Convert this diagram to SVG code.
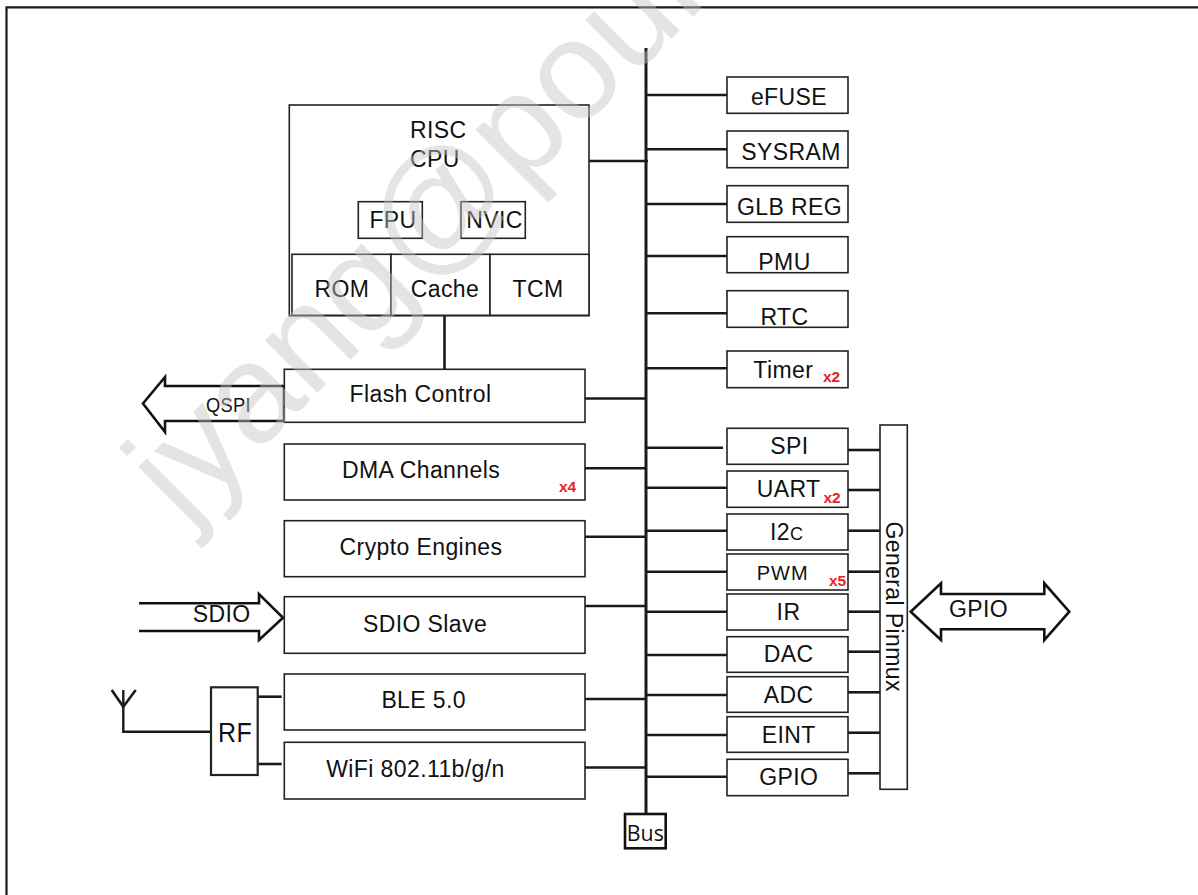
<svg xmlns="http://www.w3.org/2000/svg" width="1198" height="895" viewBox="0 0 1198 895">
<style>
.box{fill:#fff;stroke:#222;stroke-width:1.6}
.ln{stroke:#1a1a1a;stroke-width:2.6;fill:none}
.t{font-family:"Liberation Sans",Arial,sans-serif;font-size:23px;fill:#111;letter-spacing:0.4px}
.c{text-anchor:middle}
.r{font-family:"Liberation Sans",Arial,sans-serif;font-size:15.5px;font-weight:bold;fill:#e8202a}
.arr{fill:#fff;stroke:#111;stroke-width:2.6;stroke-linejoin:miter}
</style>
<rect x="0" y="0" width="1198" height="895" fill="#fff"/>
<path d="M6.5 895 V7.3 H1198" fill="none" stroke="#1a1a1a" stroke-width="2.2"/>

<g id="connectors">
  <line class="ln" x1="646" y1="48" x2="646" y2="814" style="stroke-width:3"/>
  <line class="ln" x1="589" y1="161" x2="648" y2="161"/>
  <line class="ln" x1="444.5" y1="316" x2="444.5" y2="369"/>
  <line class="ln" x1="585" y1="398.5" x2="646" y2="398.5"/>
  <line class="ln" x1="585" y1="468.3" x2="646" y2="468.3"/>
  <line class="ln" x1="585" y1="536.7" x2="646" y2="536.7"/>
  <line class="ln" x1="585" y1="606" x2="646" y2="606"/>
  <line class="ln" x1="585" y1="699" x2="646" y2="699"/>
  <line class="ln" x1="585" y1="767.5" x2="646" y2="767.5"/>
  <line class="ln" x1="646" y1="95" x2="727" y2="95"/>
  <line class="ln" x1="646" y1="149.3" x2="727" y2="149.3"/>
  <line class="ln" x1="646" y1="204" x2="727" y2="204"/>
  <line class="ln" x1="646" y1="256" x2="727" y2="256"/>
  <line class="ln" x1="646" y1="313.3" x2="727" y2="313.3"/>
  <line class="ln" x1="646" y1="368.3" x2="727" y2="368.3"/>
  <line class="ln" x1="646" y1="447.7" x2="723" y2="447.7"/>
  <line class="ln" x1="646" y1="487.7" x2="727" y2="487.7"/>
  <line class="ln" x1="646" y1="530.7" x2="727" y2="530.7"/>
  <line class="ln" x1="646" y1="571.7" x2="727" y2="571.7"/>
  <line class="ln" x1="646" y1="611.7" x2="727" y2="611.7"/>
  <line class="ln" x1="646" y1="655" x2="727" y2="655"/>
  <line class="ln" x1="646" y1="695" x2="727" y2="695"/>
  <line class="ln" x1="646" y1="735" x2="727" y2="735"/>
  <line class="ln" x1="646" y1="776.7" x2="727" y2="776.7"/>
  <line class="ln" x1="848" y1="450" x2="880" y2="450"/>
  <line class="ln" x1="848" y1="490" x2="880" y2="490"/>
  <line class="ln" x1="848" y1="530.7" x2="880" y2="530.7"/>
  <line class="ln" x1="848" y1="571.7" x2="880" y2="571.7"/>
  <line class="ln" x1="848" y1="611.7" x2="880" y2="611.7"/>
  <line class="ln" x1="848" y1="651.7" x2="880" y2="651.7"/>
  <line class="ln" x1="848" y1="692.3" x2="880" y2="692.3"/>
  <line class="ln" x1="848" y1="732.7" x2="880" y2="732.7"/>
  <line class="ln" x1="848" y1="773.3" x2="880" y2="773.3"/>
  <line class="ln" x1="257.7" y1="696.7" x2="281.7" y2="696.7"/>
  <line class="ln" x1="257.7" y1="764" x2="281.7" y2="764"/>
  <polyline class="ln" points="111.7,690 123.3,706.7 135.7,690"/>
  <polyline class="ln" points="123.3,690 123.3,731.7 211,731.7" style="stroke-width:2.4"/>
</g>

<g id="cpu">
  <rect class="box" x="289.3" y="105" width="299.7" height="210.7"/>
  <text class="t" x="410" y="138.3">RISC</text>
  <text class="t" x="410" y="166.7">CPU</text>
</g>
<g id="fpu"><rect class="box" x="358.3" y="201.7" width="64" height="36.6"/><text class="t c" x="393" y="228.3">FPU</text></g>
<g id="nvic"><rect class="box" x="461" y="201.7" width="64.3" height="36.6"/><text class="t c" x="494.5" y="228.3">NVIC</text></g>
<g id="rom"><rect class="box" x="292" y="254.3" width="99" height="61"/><text class="t c" x="342" y="296.7">ROM</text></g>
<g id="cache"><rect class="box" x="391" y="254.3" width="99" height="61"/><text class="t c" x="445" y="296.7">Cache</text></g>
<g id="tcm"><rect class="box" x="490" y="254.3" width="99" height="61"/><text class="t c" x="538" y="296.7">TCM</text></g>

<g id="qspi">
  <polygon class="arr" points="284,386 165,386 165,377 143,403.5 165,432 165,421 284,421"/>
  <text class="t" x="206" y="411.7" textLength="45" lengthAdjust="spacingAndGlyphs" style="font-size:21px">QSPI</text>
</g>
<g id="flash"><rect class="box" x="284.3" y="369.3" width="300.7" height="53"/><text class="t c" x="420.5" y="401.7">Flash Control</text></g>
<g id="dma"><rect class="box" x="284.3" y="444" width="300.7" height="56"/><text class="t c" x="421" y="478.3">DMA Channels</text><text class="r" x="559" y="492">x4</text></g>
<g id="crypto"><rect class="box" x="284.3" y="520.7" width="300.7" height="56"/><text class="t c" x="421" y="555">Crypto Engines</text></g>
<g id="sdio-arrow">
  <polyline class="arr" points="139,603.3 259,603.3 259,594 283,617.7 259,640 259,631 139,631"/>
  <text class="t" x="192.7" y="621.7">SDIO</text>
</g>
<g id="sdio"><rect class="box" x="284.3" y="596.7" width="300.7" height="56.6"/><text class="t c" x="425" y="631.7">SDIO Slave</text></g>
<g id="ble"><rect class="box" x="284.3" y="674" width="300.7" height="56"/><text class="t c" x="423.7" y="708.3">BLE 5.0</text></g>
<g id="wifi"><rect class="box" x="284.3" y="742.3" width="300.7" height="56.7"/><text class="t c" x="415.5" y="776.7">WiFi 802.11b/g/n</text></g>
<g id="rf"><rect class="box" x="211" y="687.3" width="46.7" height="87.7" style="stroke-width:2.2"/><text class="t" x="218" y="742.3" textLength="34" lengthAdjust="spacingAndGlyphs" style="font-size:28px">RF</text></g>

<g id="efuse"><rect class="box" x="727" y="77" width="121" height="36.3"/><text class="t c" x="789" y="105">eFUSE</text></g>
<g id="sysram"><rect class="box" x="727" y="131" width="121" height="36.7"/><text class="t c" x="791" y="160">SYSRAM</text></g>
<g id="glbreg"><rect class="box" x="727" y="185.7" width="121" height="36.6"/><text class="t c" x="789.5" y="215">GLB REG</text></g>
<g id="pmu"><rect class="box" x="727" y="236.7" width="121" height="36"/><text class="t c" x="784.5" y="270">PMU</text></g>
<g id="rtc"><rect class="box" x="727" y="290.7" width="121" height="36.6"/><text class="t c" x="784.5" y="325">RTC</text></g>
<g id="timer"><rect class="box" x="727" y="351" width="121" height="36.7"/><text class="t" x="753.3" y="378.3">Timer</text><text class="r" x="823" y="382">x2</text></g>

<g id="spi"><rect class="box" x="727" y="428.3" width="121" height="36"/><text class="t c" x="789.5" y="454.3">SPI</text></g>
<g id="uart"><rect class="box" x="727" y="471" width="121" height="36.3"/><text class="t" x="756.7" y="497.3">UART</text><text class="r" x="823.5" y="503">x2</text></g>
<g id="i2c"><rect class="box" x="727" y="514" width="121" height="36"/><text class="t" x="770" y="540">I2<tspan style="font-size:18px">C</tspan></text></g>
<g id="pwm"><rect class="box" x="727" y="554" width="121" height="36"/><text class="t" x="756.7" y="580" style="font-size:20px;letter-spacing:1px">PWM</text><text class="r" x="829" y="586">x5</text></g>
<g id="ir"><rect class="box" x="727" y="594" width="121" height="36"/><text class="t c" x="788.5" y="620">IR</text></g>
<g id="dac"><rect class="box" x="727" y="636.7" width="121" height="35.6"/><text class="t c" x="788.7" y="662.3">DAC</text></g>
<g id="adc"><rect class="box" x="727" y="676.7" width="121" height="35.6"/><text class="t c" x="788.7" y="703.3">ADC</text></g>
<g id="eint"><rect class="box" x="727" y="716.7" width="121" height="35.6"/><text class="t c" x="788.7" y="743.3">EINT</text></g>
<g id="gpio"><rect class="box" x="727" y="759.3" width="121" height="36.4"/><text class="t c" x="788.7" y="785">GPIO</text></g>

<g id="pinmux"><rect class="box" x="880" y="425" width="27.3" height="364.3"/><text class="t c" transform="translate(886,606.7) rotate(90)">General Pinmux</text></g>

<g id="gpio-arrow">
  <polygon class="arr" points="910.7,611.7 941,583.3 941,594 1044.3,594 1044.3,583.3 1069.3,611.7 1044.3,640 1044.3,629.3 941,629.3 941,640"/>
  <text class="t" x="949" y="616.7">GPIO</text>
</g>

<g id="bus"><rect x="625" y="814" width="40.7" height="34.3" fill="#fff" stroke="#111" stroke-width="2.6"/><text x="645.3" y="840.7" text-anchor="middle" style="font-family:'Open Sans','Noto Sans',sans-serif;font-size:21px;fill:#111" textLength="37" lengthAdjust="spacingAndGlyphs">Bus</text></g>

<text x="184" y="526" transform="rotate(-45 184 526)" style="font-family:'Liberation Sans',Arial,sans-serif;font-size:140px;fill:#c4c4c4;opacity:0.45">jyang@poun</text>
</svg>
